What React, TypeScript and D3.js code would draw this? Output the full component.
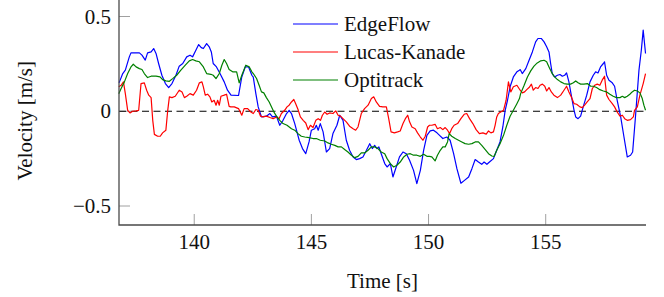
import { useEffect, useRef } from 'react';
import * as d3 from 'd3';

// [time s, velocity m/s]
const edgeFlow: [number, number][] = [
  [136.79, 0.15], [136.81, 0.155], [136.95, 0.199], [137.06, 0.217], [137.23, 0.287], [137.3, 0.308], [137.66, 0.308],
  [137.77, 0.296], [137.91, 0.27], [138.01, 0.308], [138.16, 0.313], [138.27, 0.331], [138.37, 0.305], [138.48, 0.252],
  [138.62, 0.19], [138.77, 0.146], [138.91, 0.125], [139.05, 0.146], [139.22, 0.19], [139.36, 0.238], [139.51, 0.252],
  [139.68, 0.287], [139.82, 0.296], [139.93, 0.287], [140.07, 0.322], [140.19, 0.352], [140.3, 0.336], [140.39, 0.331],
  [140.53, 0.357], [140.64, 0.34], [140.73, 0.313], [140.81, 0.252], [140.95, 0.234], [141.1, 0.199], [141.28, 0.155],
  [141.42, 0.111], [141.57, 0.085], [141.89, 0.083], [142.03, 0.181], [142.18, 0.234], [142.32, 0.234], [142.46, 0.19],
  [142.52, 0.18], [142.63, 0.093], [142.73, 0.023], [142.87, -0.03], [143.08, -0.026], [143.23, -0.012], [143.34, -0.03],
  [143.51, -0.026], [143.65, -0.074], [143.79, -0.048], [143.94, -0.012], [144.05, 0.005], [144.15, -0.012], [144.29, -0.065],
  [144.48, -0.153], [144.62, -0.197], [144.76, -0.224], [144.9, -0.162], [145.0, -0.1], [145.14, -0.092], [145.21, -0.074],
  [145.29, -0.1], [145.38, -0.065], [145.5, -0.109], [145.64, -0.215], [145.78, -0.197], [145.92, -0.118], [146.09, -0.074],
  [146.21, -0.021], [146.35, -0.048], [146.49, -0.153], [146.63, -0.206], [146.78, -0.241], [146.92, -0.255], [147.06, -0.25],
  [147.2, -0.241], [147.35, -0.206], [147.49, -0.171], [147.6, -0.197], [147.7, -0.18], [147.8, -0.197], [147.88, -0.188],
  [147.98, -0.224], [148.13, -0.276], [148.23, -0.294], [148.37, -0.276], [148.48, -0.347], [148.62, -0.294], [148.76, -0.241],
  [148.91, -0.215], [149.05, -0.224], [149.19, -0.259], [149.36, -0.312], [149.5, -0.382], [149.65, -0.312], [149.79, -0.206],
  [149.93, -0.127], [150.07, -0.104], [150.21, -0.1], [150.36, -0.114], [150.47, -0.127], [150.61, -0.144], [150.78, -0.136],
  [150.92, -0.153], [151.07, -0.224], [151.21, -0.303], [151.38, -0.38], [151.52, -0.366], [151.71, -0.347], [151.85, -0.303],
  [151.99, -0.255], [152.13, -0.268], [152.27, -0.28], [152.37, -0.268], [152.49, -0.28], [152.6, -0.268], [152.77, -0.25],
  [152.91, -0.206], [153.05, -0.162], [153.17, -0.083], [153.27, 0.005], [153.37, 0.058], [153.48, 0.129], [153.62, 0.181],
  [153.77, 0.208], [153.88, 0.217], [153.91, 0.22], [154.0, 0.199], [154.15, 0.225], [154.29, 0.269], [154.43, 0.313],
  [154.57, 0.366], [154.67, 0.384], [154.81, 0.384], [154.93, 0.366], [155.04, 0.34], [155.14, 0.313], [155.21, 0.252],
  [155.28, 0.199], [155.38, 0.181], [155.5, 0.19], [155.61, 0.194], [155.71, 0.185], [155.81, 0.19], [155.89, 0.202],
  [155.99, 0.155], [156.09, 0.085], [156.21, 0.005], [156.28, -0.03], [156.38, -0.039], [156.49, -0.026], [156.6, 0.023],
  [156.75, 0.085], [156.89, 0.155], [157.03, 0.19], [157.13, 0.208], [157.23, 0.202], [157.34, 0.234], [157.46, 0.252],
  [157.51, 0.261], [157.6, 0.19], [157.7, 0.164], [157.84, 0.15], [157.94, 0.132], [158.05, 0.058], [158.2, -0.03],
  [158.34, -0.136], [158.48, -0.241], [158.62, -0.232], [158.71, -0.215], [158.83, -0.03], [158.98, 0.217], [159.08, 0.322],
  [159.16, 0.428], [159.26, 0.305],
];

const lucasKanade: [number, number][] = [
  [136.78, 0.129], [136.88, 0.137], [136.98, 0.155], [137.06, 0.093], [137.16, 0.005], [137.26, -0.009], [137.37, 0.0],
  [137.52, 0.002], [137.63, 0.005], [137.73, 0.146], [137.87, 0.15], [137.97, 0.111], [138.06, 0.085], [138.16, 0.072],
  [138.23, -0.048], [138.3, -0.122], [138.44, -0.132], [138.55, -0.132], [138.65, -0.114], [138.79, -0.1], [138.87, 0.005],
  [138.94, 0.076], [139.05, 0.072], [139.19, 0.079], [139.36, 0.111], [139.48, 0.102], [139.58, 0.072], [139.68, 0.079],
  [139.82, 0.093], [139.96, 0.085], [140.1, 0.111], [140.22, 0.15], [140.33, 0.155], [140.39, 0.129], [140.47, 0.085],
  [140.57, 0.09], [140.67, 0.076], [140.75, 0.049], [140.85, 0.058], [140.93, 0.032], [141.0, 0.058], [141.07, 0.032],
  [141.14, 0.079], [141.28, 0.085], [141.38, 0.09], [141.49, 0.026], [141.56, 0.023], [141.71, 0.023], [141.89, 0.014],
  [142.03, -0.021], [142.13, 0.014], [142.28, 0.014], [142.42, -0.004], [142.52, -0.012], [142.63, 0.009], [142.73, 0.005],
  [142.83, -0.026], [142.94, -0.03], [143.08, -0.026], [143.23, -0.033], [143.37, -0.039], [143.51, -0.03], [143.62, -0.039],
  [143.72, -0.012], [143.86, 0.005], [143.96, 0.023], [144.05, 0.032], [144.15, 0.049], [144.25, 0.062], [144.33, 0.04],
  [144.43, 0.009], [144.53, -0.03], [144.65, -0.048], [144.76, -0.062], [144.86, -0.097], [144.96, -0.074], [145.07, -0.086],
  [145.19, -0.048], [145.29, -0.039], [145.39, -0.048], [145.47, -0.021], [145.57, -0.004], [145.67, -0.016], [145.78, -0.009],
  [145.92, -0.012], [146.04, 0.002], [146.14, -0.021], [146.24, -0.026], [146.35, -0.039], [146.49, -0.056], [146.63, -0.079],
  [146.78, -0.092], [146.89, -0.1], [146.99, -0.083], [147.13, -0.012], [147.27, 0.014], [147.42, 0.032], [147.56, 0.067],
  [147.66, 0.076], [147.77, 0.049], [147.91, 0.026], [148.05, 0.023], [148.2, 0.023], [148.3, -0.039], [148.4, -0.109],
  [148.54, -0.114], [148.68, -0.109], [148.79, -0.104], [148.91, -0.065], [149.01, -0.039], [149.11, -0.021], [149.19, -0.056],
  [149.29, -0.083], [149.43, -0.092], [149.53, -0.114], [149.65, -0.136], [149.76, -0.153], [149.86, -0.132], [149.96, -0.083],
  [150.04, -0.074], [150.14, -0.074], [150.28, -0.069], [150.38, -0.092], [150.5, -0.086], [150.61, -0.097], [150.71, -0.086],
  [150.81, -0.1], [150.9, -0.118], [150.99, -0.092], [151.09, -0.074], [151.24, -0.065], [151.38, -0.039], [151.52, -0.016],
  [151.63, -0.012], [151.75, -0.039], [151.89, -0.065], [152.03, -0.097], [152.17, -0.118], [152.32, -0.114], [152.46, -0.121],
  [152.56, -0.104], [152.66, -0.114], [152.77, -0.109], [152.84, -0.074], [152.91, -0.03], [152.98, -0.012], [153.08, -0.004],
  [153.2, 0.005], [153.31, 0.058], [153.41, 0.155], [153.51, 0.102], [153.62, 0.129], [153.77, 0.137], [153.91, 0.111],
  [154.0, 0.097], [154.1, 0.102], [154.19, 0.114], [154.29, 0.125], [154.39, 0.143], [154.47, 0.111], [154.57, 0.125],
  [154.67, 0.12], [154.76, 0.137], [154.86, 0.143], [154.96, 0.132], [155.04, 0.107], [155.14, 0.125], [155.24, 0.102],
  [155.35, 0.085], [155.5, 0.072], [155.64, 0.085], [155.78, 0.111], [155.89, 0.132], [155.99, 0.102], [156.09, 0.076],
  [156.21, 0.04], [156.32, 0.037], [156.46, 0.023], [156.56, 0.019], [156.66, 0.032], [156.77, 0.049], [156.89, 0.067],
  [156.99, 0.12], [157.09, 0.137], [157.2, 0.143], [157.31, 0.137], [157.41, 0.164], [157.51, 0.185], [157.6, 0.085],
  [157.7, 0.062], [157.84, 0.04], [157.94, 0.023], [158.05, -0.004], [158.17, -0.026], [158.27, -0.021], [158.37, -0.039],
  [158.48, -0.048], [158.62, -0.044], [158.74, -0.03], [158.79, 0.005], [158.91, 0.023], [159.02, 0.085], [159.16, 0.146],
  [159.26, 0.199],
];

const optitrack: [number, number][] = [
  [136.78, 0.093], [136.88, 0.12], [137.02, 0.155], [137.16, 0.199], [137.3, 0.234], [137.4, 0.248], [137.52, 0.234],
  [137.66, 0.225], [137.77, 0.22], [137.87, 0.199], [138.01, 0.178], [138.16, 0.185], [138.37, 0.185], [138.54, 0.181],
  [138.65, 0.167], [138.79, 0.16], [138.94, 0.158], [139.08, 0.172], [139.25, 0.19], [139.43, 0.217], [139.62, 0.243],
  [139.79, 0.266], [139.93, 0.273], [140.07, 0.266], [140.22, 0.261], [140.39, 0.234], [140.53, 0.199], [140.71, 0.195],
  [140.81, 0.19], [140.93, 0.172], [141.07, 0.199], [141.18, 0.243], [141.28, 0.273], [141.38, 0.252], [141.49, 0.22],
  [141.64, 0.208], [141.81, 0.208], [141.92, 0.15], [142.03, 0.19], [142.2, 0.243], [142.35, 0.234], [142.46, 0.208],
  [142.52, 0.199], [142.66, 0.173], [142.77, 0.137], [142.87, 0.102], [142.97, 0.097], [143.08, 0.072], [143.2, 0.049],
  [143.3, 0.023], [143.4, -0.004], [143.51, -0.026], [143.65, -0.048], [143.79, -0.065], [143.96, -0.074], [144.15, -0.092],
  [144.29, -0.1], [144.43, -0.118], [144.57, -0.132], [144.72, -0.136], [144.9, -0.139], [145.07, -0.144], [145.21, -0.144],
  [145.38, -0.153], [145.57, -0.157], [145.71, -0.167], [145.85, -0.174], [146.0, -0.18], [146.14, -0.188], [146.28, -0.188],
  [146.42, -0.202], [146.56, -0.215], [146.71, -0.232], [146.85, -0.245], [146.99, -0.238], [147.13, -0.22], [147.27, -0.22],
  [147.42, -0.206], [147.56, -0.188], [147.7, -0.188], [147.84, -0.197], [147.98, -0.215], [148.13, -0.224], [148.23, -0.25],
  [148.37, -0.276], [148.51, -0.294], [148.65, -0.285], [148.79, -0.268], [148.94, -0.241], [149.08, -0.227], [149.22, -0.224],
  [149.36, -0.232], [149.5, -0.232], [149.65, -0.238], [149.79, -0.227], [149.93, -0.238], [150.04, -0.238], [150.14, -0.241],
  [150.28, -0.262], [150.38, -0.232], [150.5, -0.206], [150.61, -0.188], [150.71, -0.188], [150.81, -0.162], [150.88, -0.118],
  [150.99, -0.132], [151.14, -0.144], [151.28, -0.153], [151.42, -0.162], [151.56, -0.171], [151.71, -0.174], [151.85, -0.171],
  [151.99, -0.162], [152.13, -0.162], [152.27, -0.18], [152.42, -0.202], [152.56, -0.224], [152.7, -0.236], [152.8, -0.238],
  [152.91, -0.206], [153.05, -0.171], [153.2, -0.127], [153.34, -0.074], [153.48, -0.026], [153.62, 0.005], [153.77, 0.04],
  [153.88, 0.067], [153.93, 0.093], [154.08, 0.137], [154.22, 0.181], [154.36, 0.213], [154.5, 0.238], [154.64, 0.255],
  [154.79, 0.266], [154.93, 0.269], [155.04, 0.261], [155.14, 0.234], [155.24, 0.208], [155.35, 0.185], [155.5, 0.167],
  [155.64, 0.155], [155.78, 0.146], [155.92, 0.143], [156.06, 0.143], [156.18, 0.15], [156.28, 0.16], [156.38, 0.15],
  [156.49, 0.143], [156.63, 0.143], [156.78, 0.146], [156.92, 0.132], [157.03, 0.132], [157.17, 0.125], [157.31, 0.114],
  [157.46, 0.107], [157.6, 0.102], [157.74, 0.09], [157.88, 0.079], [158.02, 0.072], [158.17, 0.072], [158.27, 0.079],
  [158.37, 0.072], [158.48, 0.079], [158.59, 0.09], [158.69, 0.102], [158.79, 0.111], [158.91, 0.107], [159.02, 0.097],
  [159.12, 0.067], [159.19, 0.032], [159.26, 0.005],
];

const xTicks = [140, 145, 150, 155];
const yTicks = [-0.5, 0, 0.5];
const seriesNames = ['EdgeFlow', 'Lucas-Kanade', 'Optitrack'];
const seriesColors = ['#0000ff', '#ff0000', '#008000'];

const W = 664;
const H = 297;

export default function App() {
  const svgRef = useRef<SVGSVGElement>(null);

  useEffect(() => {
    document.body.style.margin = '0';
    const svg = d3.select(svgRef.current);
    svg.selectAll('*').remove();

    const left = 119, right = 646, bottom = 225;
    const x = d3.scaleLinear().domain([136.79, 159.28]).range([left, right]);
    const y = d3.scaleLinear().domain([-0.5, 0.5]).range([206, 16.5]);
    const yMin = y.invert(bottom);
    const top = y(0.6);

    const g = svg.append('g');

    // ticks (inward, light grey)
    xTicks.forEach(t => {
      g.append('line').attr('x1', x(t)).attr('x2', x(t)).attr('y1', bottom).attr('y2', bottom - 11)
        .attr('stroke', '#a0a0a0').attr('stroke-width', 1);
      g.append('text').attr('x', x(t)).attr('y', bottom + 24).attr('text-anchor', 'middle')
        .attr('fill', '#111').text(String(t));
    });
    yTicks.forEach(v => {
      g.append('line').attr('x1', left).attr('x2', left + 11).attr('y1', y(v)).attr('y2', y(v))
        .attr('stroke', '#a0a0a0').attr('stroke-width', 1);
      g.append('text').attr('x', 111).attr('y', y(v) + 7).attr('text-anchor', 'end')
        .attr('fill', '#111').text(v < 0 ? `\u2212${Math.abs(v)}` : String(v));
    });

    // zero reference
    g.append('line').attr('x1', left).attr('x2', right).attr('y1', y(0)).attr('y2', y(0))
      .attr('stroke', '#000').attr('stroke-width', 1.2).attr('stroke-dasharray', '7,4.5');

    // series
    const line = d3.line<[number, number]>().x(d => x(d[0])).y(d => y(d[1]));
    [edgeFlow, lucasKanade, optitrack].forEach((data, i) => {
      g.append('path').datum(data).attr('fill', 'none').attr('stroke', seriesColors[i])
        .attr('stroke-width', 1.2).attr('stroke-linejoin', 'round').attr('d', line);
    });

    // axis lines
    g.append('path').attr('d', `M${left},${top}V${bottom}H${right}`)
      .attr('fill', 'none').attr('stroke', '#4a4a4a').attr('stroke-width', 1.3);

    // legend
    seriesNames.forEach((name, i) => {
      const ly = 24 + i * 28;
      g.append('line').attr('x1', 293).attr('x2', 338).attr('y1', ly).attr('y2', ly)
        .attr('stroke', seriesColors[i]).attr('stroke-width', 1.2);
      g.append('text').attr('x', 344).attr('y', ly + 7).attr('fill', '#111').text(name);
    });

    // axis labels
    g.append('text').attr('x', (left + right) / 2).attr('y', 288).attr('text-anchor', 'middle')
      .attr('fill', '#111').text('Time [s]');
    g.append('text').attr('transform', `translate(32,${y((0.5 + yMin) / 2)})rotate(-90)`)
      .attr('text-anchor', 'middle').attr('fill', '#111').text('Velocity [m/s]');
  }, []);

  return (
    <svg ref={svgRef} width={W} height={H}
      style={{ display: 'block', background: '#fff', fontFamily: "'Liberation Serif'", fontSize: 21 }} />
  );
}
